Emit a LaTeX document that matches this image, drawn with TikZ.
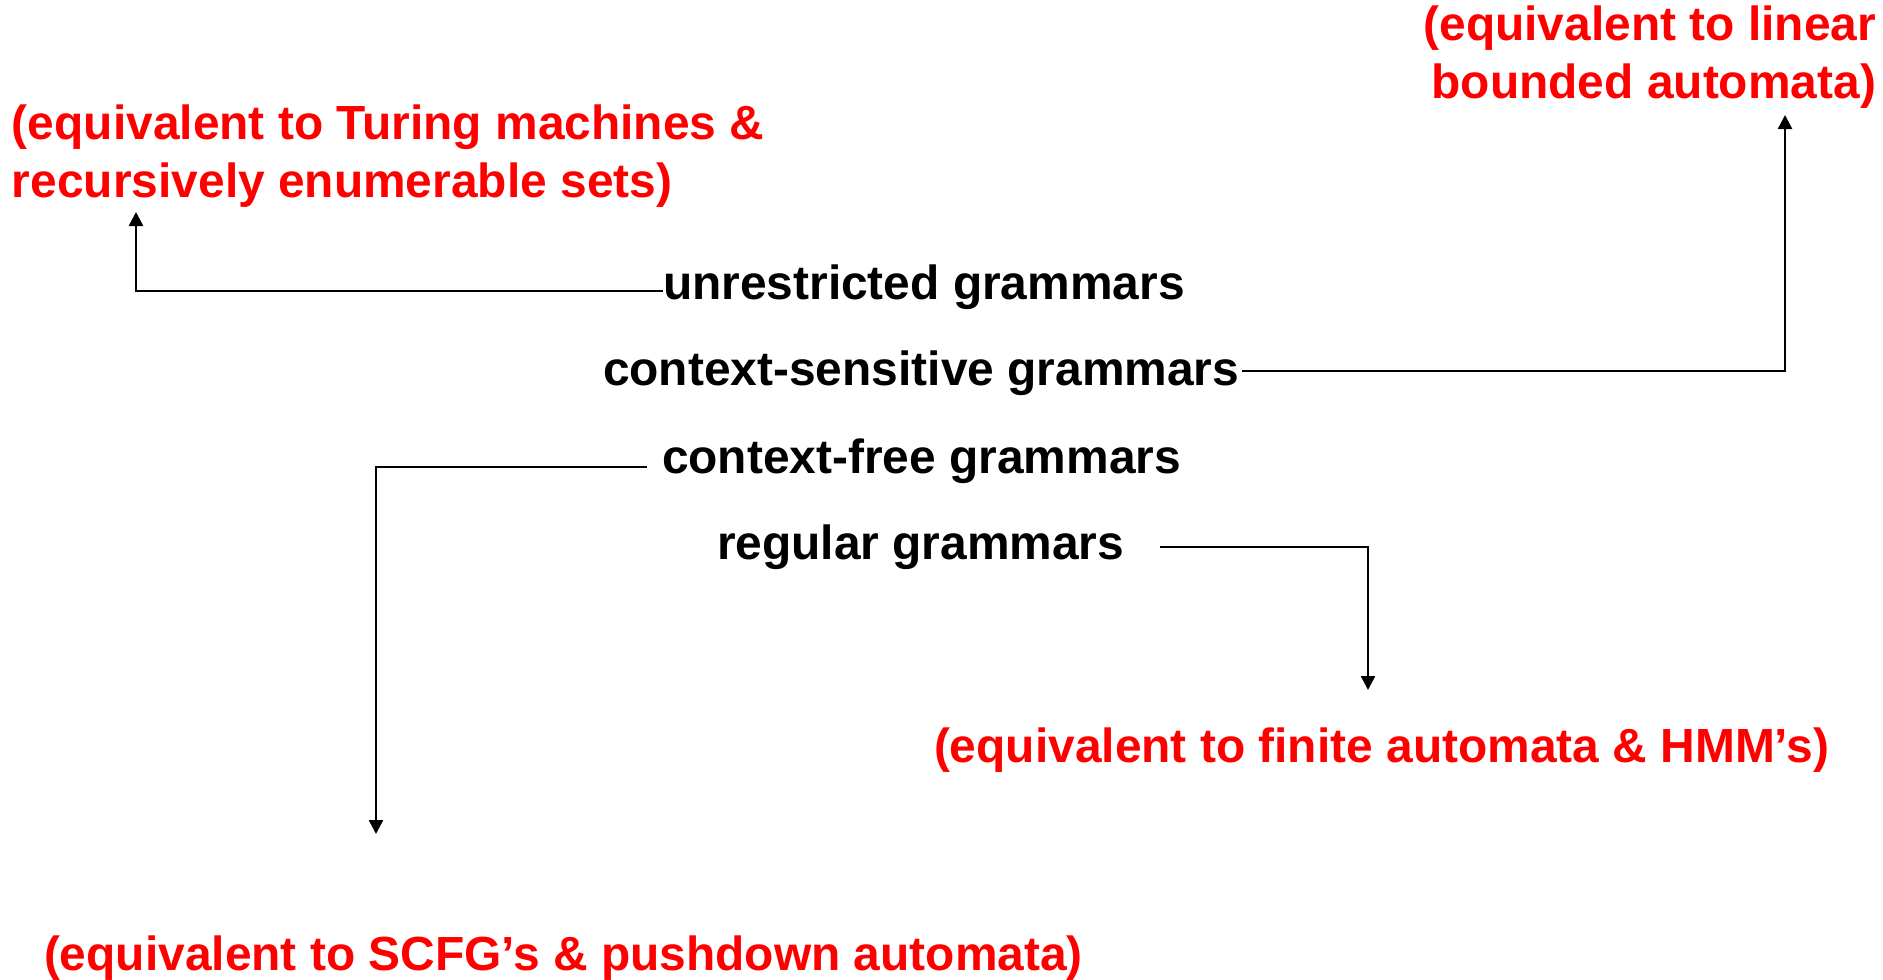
\documentclass[tikz,border=0pt]{standalone}
\usepackage{fontspec}
\setmainfont{Liberation Sans}
\usetikzlibrary{arrows.meta}
\definecolor{notered}{RGB}{255,0,0}
\tikzset{
  grammar/.style={inner sep=0pt, outer sep=0pt, anchor=base west,
    font=\fontsize{47.9}{58}\selectfont\bfseries, text=black},
  machine/.style={inner sep=0pt, outer sep=0pt,
    font=\fontsize{47.9}{58}\selectfont\bfseries, text=notered},
  conn/.style={draw=black, line width=2.5pt,
    -{Triangle[length=14pt,width=14pt]}}
}
\begin{document}
\begin{tikzpicture}[x=1pt,y=-1pt]
  \useasboundingbox (0,0) rectangle (1883,980);

  % the four grammar classes
  \node[grammar] (unr) at (663,299) {unrestricted grammars};
  \node[grammar] (cs)  at (603,385) {context-sensitive grammars};
  \node[grammar] (cf)  at (662,473) {context-free grammars};
  \node[grammar] (reg) at (717,559) {regular grammars};

  % the equivalent machine models
  \node[machine, anchor=north west, align=left] (tur) at (12,105)
    {(equivalent to Turing machines \&\\recursively enumerable sets)};
  \node[machine, anchor=north east, align=right] (lba) at (1876,6)
    {(equivalent to linear\\bounded automata)};
  \node[machine, anchor=base west] (fa) at (934,762)
    {(equivalent to finite automata \& HMM’s)};
  \node[machine, anchor=base west] (pda) at (44,970)
    {(equivalent to SCFG’s \& pushdown automata)};

  % arrow end points just outside the machine labels
  \coordinate (turIn) at (136,212);
  \coordinate (lbaIn) at (1785,115);
  \coordinate (faIn)  at (1368,690);
  \coordinate (pdaIn) at (376,834);

  % connectors
  \draw[conn] ([yshift=8pt]unr.base west) -| (turIn);
  \draw[conn] ([xshift=3pt,yshift=14pt]cs.base east) -| (lbaIn);
  \draw[conn] ([xshift=-15pt,yshift=6pt]cf.base west) -| (pdaIn);
  \draw[conn] ([xshift=36pt,yshift=12pt]reg.base east) -| (faIn);
\end{tikzpicture}
\end{document}
